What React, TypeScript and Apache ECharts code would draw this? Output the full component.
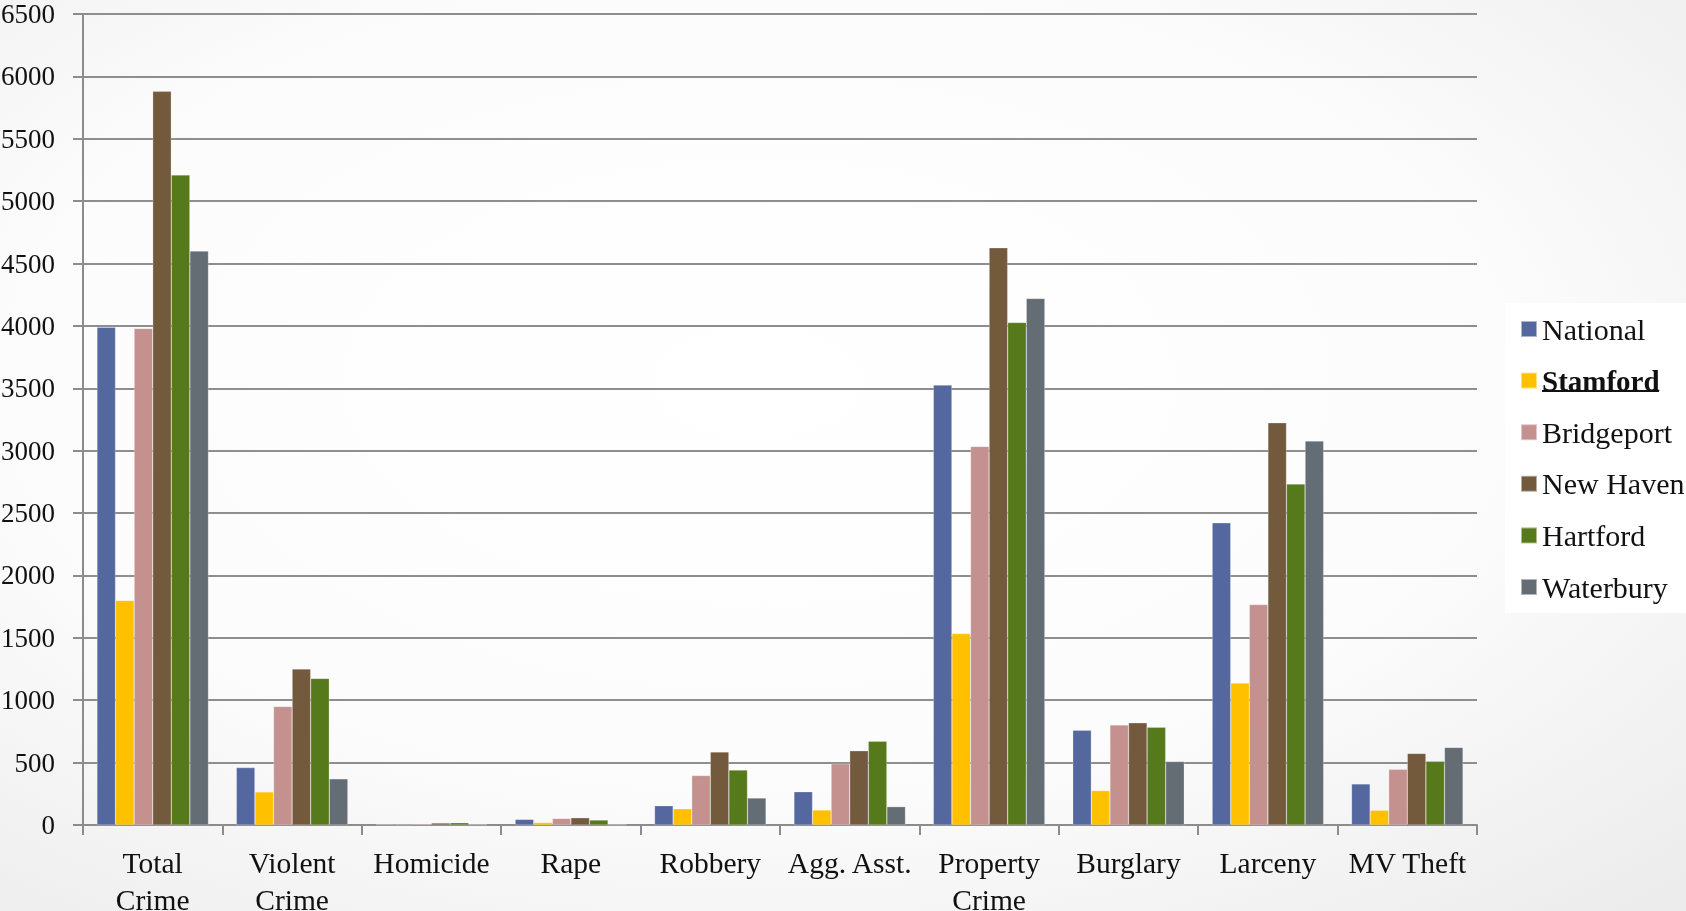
import React, { useEffect, useRef } from "react";
import * as echarts from "echarts";

const categories = [
  "Total\nCrime",
  "Violent\nCrime",
  "Homicide",
  "Rape",
  "Robbery",
  "Agg. Asst.",
  "Property\nCrime",
  "Burglary",
  "Larceny",
  "MV Theft",
];

const seriesNames = ["National", "Stamford", "Bridgeport", "New Haven", "Hartford", "Waterbury"];
const seriesColors = ["#55679F", "#FFC000", "#C4918F", "#735A3D", "#56791C", "#646C74"];

const national = [3990, 460, 5, 45, 155, 267, 3526, 759, 2422, 329];
const stamford = [1800, 265, 3, 20, 130, 120, 1534, 276, 1138, 118];
const bridgeport = [3980, 950, 10, 53, 397, 491, 3034, 802, 1767, 446];
const newHaven = [5880, 1250, 16, 58, 586, 595, 4626, 819, 3224, 574];
const hartford = [5210, 1175, 18, 40, 440, 672, 4028, 784, 2733, 510];
const waterbury = [4600, 370, 4, 3, 216, 147, 4220, 509, 3078, 622];

const seriesValues = [national, stamford, bridgeport, newHaven, hartford, waterbury];

const FONT = "'Liberation Serif', 'DejaVu Serif', serif";

export default function App() {
  const ref = useRef<HTMLDivElement>(null);

  useEffect(() => {
    if (!ref.current) return;
    const chart = echarts.init(ref.current, undefined, { renderer: "svg" });
    chart.setOption({
      animation: false,
      backgroundColor: new echarts.graphic.RadialGradient(0.45, 0.42, 0.8, [
        { offset: 0, color: "#ffffff" },
        { offset: 0.55, color: "#fcfcfc" },
        { offset: 1, color: "#ebebeb" },
      ]),
      textStyle: { fontFamily: FONT },
      grid: {
        left: 83,
        top: 14,
        right: 209,
        bottom: 86,
        containLabel: false,
        outerBoundsMode: "none",
      },
      legend: {
        orient: "vertical",
        left: 1505,
        top: 303,
        padding: [11, 40, 11, 15],
        backgroundColor: "#ffffff",
        itemWidth: 16,
        itemHeight: 16,
        itemGap: 21.6,
        icon: "rect",
        data: seriesNames,
        textStyle: {
          fontFamily: FONT,
          fontSize: 30,
          lineHeight: 30,
          color: "#111",
          rich: {
            b: { fontFamily: FONT, fontSize: 29, lineHeight: 30, fontWeight: "bold", color: "#111" },
          },
        },
        formatter: (name: string) => (name === "Stamford" ? "{b|Stamford}" : name),
      },
      graphic: [
        {
          type: "line",
          shape: { x1: 1542, y1: 391, x2: 1659, y2: 391 },
          style: { stroke: "#111", lineWidth: 2 },
          z: 100,
        },
      ],
      xAxis: {
        type: "category",
        data: categories,
        axisLine: { lineStyle: { color: "#8c8c8c", width: 2 } },
        axisTick: { show: true, length: 10, lineStyle: { color: "#8c8c8c", width: 2 } },
        axisLabel: {
          fontFamily: FONT,
          fontSize: 29.5,
          lineHeight: 37,
          color: "#111",
          margin: 19,
          interval: 0,
        },
      },
      yAxis: {
        type: "value",
        min: 0,
        max: 6500,
        interval: 500,
        axisLine: { show: true, lineStyle: { color: "#8c8c8c", width: 2 } },
        axisTick: { show: true, length: 10, lineStyle: { color: "#8c8c8c", width: 2 } },
        splitLine: { show: true, lineStyle: { color: "#8e8e8e", width: 2 } },
        axisLabel: {
          fontFamily: FONT,
          fontSize: 27,
          color: "#111",
          margin: 28,
          formatter: (v: number) => String(v),
        },
      },
      series: seriesNames.map((name, i) => ({
        name,
        type: "bar",
        data: seriesValues[i],
        barGap: "0%",
        barCategoryGap: "20%",
        itemStyle: {
          color: seriesColors[i],
          borderColor: "rgba(255,255,255,0.5)",
          borderWidth: 0.5,
        },
      })),
    });
    return () => chart.dispose();
  }, []);

  return (
    <div
      ref={ref}
      style={{ position: "fixed", left: 0, top: 0, width: 1686, height: 911 }}
    />
  );
}
